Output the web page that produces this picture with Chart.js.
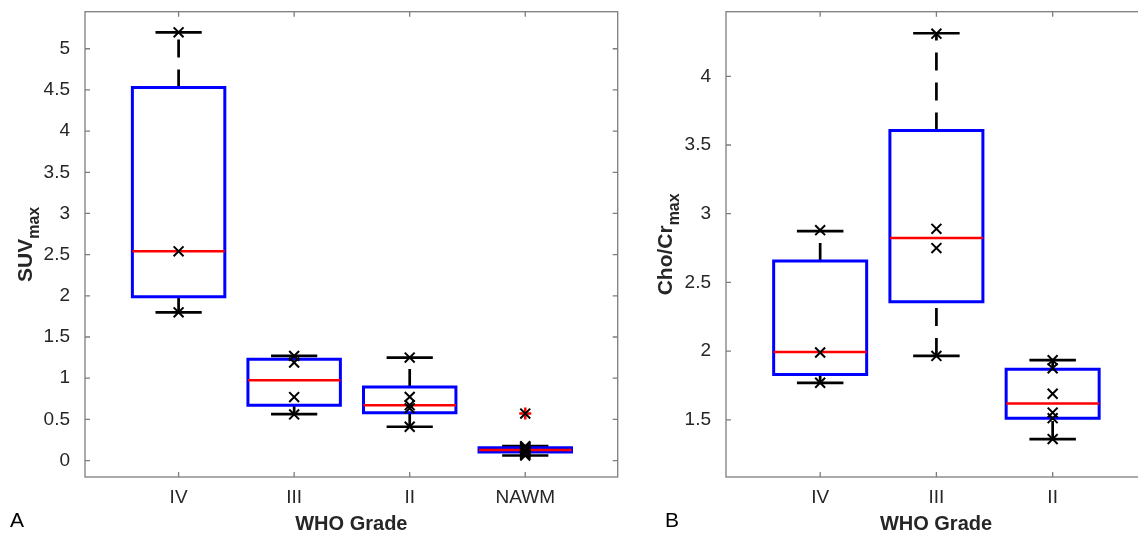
<!DOCTYPE html>
<html>
<head>
<meta charset="utf-8">
<script src="https://cdn.jsdelivr.net/npm/chart.js@4.4.1/dist/chart.umd.min.js"></script>
<style>
  html, body { margin: 0; padding: 0; background: #fff; overflow: hidden; width: 1138px; height: 534px; }
  #panelA { position: absolute; left: 0; top: 0; }
  #panelB { position: absolute; left: 640px; top: 0; }
</style>
</head>
<body>
<canvas id="panelA" width="640" height="534"></canvas>
<canvas id="panelB" width="520" height="534"></canvas>
<script>
// Panel A: SUVmax by WHO grade
const suvGroups = ['IV', 'III', 'II', 'NAWM'];
const suvQ1 = [1.99, 0.67, 0.58, 0.105];
const suvMedian = [2.54, 0.976, 0.672, 0.128];
const suvQ3 = [4.53, 1.231, 0.894, 0.155];
const suvLow = [1.80, 0.563, 0.41, 0.061];
const suvHigh = [5.20, 1.271, 1.25, 0.174];
const suvPoints = [
  [5.20, 2.54, 1.80],
  [1.27, 1.19, 0.77, 0.56],
  [1.25, 0.773, 0.672, 0.634, 0.41],
  [0.174, 0.165, 0.155, 0.145, 0.135, 0.128, 0.12, 0.11, 0.10, 0.09, 0.075, 0.061, 0.57]
];
const suvOutliers = [[], [], [], [0.57]];
const suvTicks = [0, 0.5, 1, 1.5, 2, 2.5, 3, 3.5, 4, 4.5, 5];

// Panel B: Cho/Cr max by WHO grade
const choGroups = ['IV', 'III', 'II'];
const choQ1 = [1.829, 2.359, 1.512];
const choMedian = [1.994, 2.824, 1.618];
const choQ3 = [2.655, 3.606, 1.868];
const choLow = [1.769, 1.965, 1.36];
const choHigh = [2.873, 4.313, 1.934];
const choPoints = [
  [2.88, 1.99, 1.77],
  [4.31, 2.89, 2.75, 1.965],
  [1.934, 1.875, 1.69, 1.553, 1.512, 1.36]
];
const choOutliers = [[], [], []];
const choTicks = [1.5, 2, 2.5, 3, 3.5, 4];

const FONT = '"Liberation Sans", Arial, Helvetica, sans-serif';
const BOX_HALF = 0.4;
const CAP_HALF = 0.2;

function line(data, color, width, dash) {
  return {
    data: data,
    showLine: true,
    borderColor: color,
    borderWidth: width,
    borderDash: dash || [],
    borderCapStyle: 'butt',
    borderJoinStyle: 'miter',
    pointRadius: 0,
    fill: false,
    tension: 0
  };
}

// builds the box plot pieces; first dataset ends up on top
function boxDatasets(groups, q1, med, q3, lo, hi, pts, outl) {
  const marks = [];
  const outs = [];
  groups.forEach((g, i) => {
    pts[i].forEach(v => marks.push({ x: i + 1, y: v }));
    outl[i].forEach(v => outs.push({ x: i + 1, y: v }));
  });
  const ds = [];
  ds.push({ data: marks, pointStyle: 'crossRot', pointRadius: 7, borderColor: '#000', backgroundColor: '#000', borderWidth: 2 });
  ds.push({ data: outs, pointStyle: 'cross', pointRadius: 6, borderColor: '#ff0000', backgroundColor: '#ff0000', borderWidth: 2.5 });
  groups.forEach((g, i) => {
    const x = i + 1;
    ds.push(line([{ x: x - BOX_HALF, y: med[i] }, { x: x + BOX_HALF, y: med[i] }], '#ff0000', 2.5));
    const box = line([
      { x: x - BOX_HALF, y: q1[i] }, { x: x + BOX_HALF, y: q1[i] },
      { x: x + BOX_HALF, y: q3[i] }, { x: x - BOX_HALF, y: q3[i] },
      { x: x - BOX_HALF, y: q1[i] }
    ], '#0000ff', 3);
    box.borderCapStyle = 'square';
    ds.push(box);
    ds.push(line([{ x: x - CAP_HALF, y: hi[i] }, { x: x + CAP_HALF, y: hi[i] }], '#000', 2.7));
    ds.push(line([{ x: x - CAP_HALF, y: lo[i] }, { x: x + CAP_HALF, y: lo[i] }], '#000', 2.7));
    ds.push(line([{ x: x, y: q3[i] }, { x: x, y: hi[i] }], '#000', 2.7, [18, 12]));
    ds.push(line([{ x: x, y: lo[i] }, { x: x, y: q1[i] }], '#000', 2.7, [18, 12]));
  });
  return ds;
}

// MATLAB-like frame: full box, inward ticks, axis titles, panel letter
const framePlugin = {
  id: 'frame',
  beforeDatasetsDraw(chart, args, opts) {
    const { ctx, chartArea: a, scales } = chart;
    const xs = scales.x, ys = scales.y;
    ctx.save();
    ctx.strokeStyle = '#7d7d7d';
    ctx.lineWidth = 1.3;
    ctx.strokeRect(a.left, a.top, a.right - a.left, a.bottom - a.top);
    ctx.beginPath();
    ys.ticks.forEach(t => {
      const py = ys.getPixelForValue(t.value);
      ctx.moveTo(a.left, py); ctx.lineTo(a.left + 5, py);
      ctx.moveTo(a.right, py); ctx.lineTo(a.right - 5, py);
    });
    xs.ticks.forEach(t => {
      const px = xs.getPixelForValue(t.value);
      ctx.moveTo(px, a.bottom); ctx.lineTo(px, a.bottom - 5);
      ctx.moveTo(px, a.top); ctx.lineTo(px, a.top + 5);
    });
    ctx.stroke();
    ctx.restore();
  },
  afterDraw(chart, args, opts) {
    const { ctx, chartArea: a } = chart;
    ctx.save();
    ctx.fillStyle = '#262626';
    // x title
    ctx.font = 'bold 20px ' + FONT;
    ctx.textAlign = 'center';
    ctx.textBaseline = 'alphabetic';
    ctx.fillText(opts.xTitle, (a.left + a.right) / 2, 530);
    // y title with subscript, rotated
    const mainFont = 'bold 21px ' + FONT;
    const subFont = 'bold 16px ' + FONT;
    ctx.font = mainFont;
    const w1 = ctx.measureText(opts.yTitle).width;
    ctx.font = subFont;
    const w2 = ctx.measureText(opts.ySub).width;
    ctx.translate(opts.yTitleX, (a.top + a.bottom) / 2);
    ctx.rotate(-Math.PI / 2);
    ctx.textAlign = 'left';
    ctx.font = mainFont;
    ctx.fillText(opts.yTitle, -(w1 + w2) / 2, 0);
    ctx.font = subFont;
    ctx.fillText(opts.ySub, -(w1 + w2) / 2 + w1, 7);
    ctx.setTransform(1, 0, 0, 1, 0, 0);
    // panel letter
    ctx.fillStyle = '#000';
    ctx.font = '21px ' + FONT;
    ctx.fillText(opts.letter, opts.letterX, 527);
    ctx.restore();
  }
};

function makeChart(id, groups, q1, med, q3, lo, hi, pts, outl, ticks, yRange, xMax, padRight, axisW, titles) {
  return new Chart(document.getElementById(id), {
    type: 'scatter',
    data: { datasets: boxDatasets(groups, q1, med, q3, lo, hi, pts, outl) },
    options: {
      responsive: false,
      animation: false,
      events: [],
      layout: { padding: { left: 0, top: 11.7, right: padRight, bottom: 0 } },
      plugins: { legend: { display: false }, tooltip: { enabled: false }, frame: titles },
      scales: {
        x: {
          type: 'linear',
          min: 0.19,
          max: xMax,
          grid: { display: false },
          border: { display: false },
          afterBuildTicks: s => { s.ticks = groups.map((g, i) => ({ value: i + 1 })); },
          afterFit: s => { s.height = 534 - 477; s.paddingLeft = 0; s.paddingRight = 0; },
          ticks: {
            callback: (v, i) => groups[i],
            autoSkip: false,
            maxRotation: 0,
            padding: 2,
            color: '#262626',
            font: { family: FONT, size: 19, lineHeight: 1.1 }
          }
        },
        y: {
          min: yRange[0],
          max: yRange[1],
          grid: { display: false },
          border: { display: false },
          afterBuildTicks: s => { s.ticks = ticks.map(v => ({ value: v })); },
          afterFit: s => { s.width = axisW; s.paddingTop = 0; s.paddingBottom = 0; },
          ticks: {
            callback: v => String(v),
            padding: 7,
            color: '#262626',
            font: { family: FONT, size: 19, lineHeight: 1.1 }
          }
        }
      }
    },
    plugins: [framePlugin]
  });
}

makeChart('panelA', suvGroups, suvQ1, suvMedian, suvQ3, suvLow, suvHigh, suvPoints, suvOutliers,
  suvTicks, [-0.2, 5.45], 4.8, 22.3, 85,
  { xTitle: 'WHO Grade', yTitle: 'SUV', ySub: 'max', yTitleX: 32, letter: 'A', letterX: 10 });

makeChart('panelB', choGroups, choQ1, choMedian, choQ3, choLow, choHigh, choPoints, choOutliers,
  choTicks, [1.084, 4.47], 3.803, 14, 86,
  { xTitle: 'WHO Grade', yTitle: 'Cho/Cr', ySub: 'max', yTitleX: 32, letter: 'B', letterX: 25 });
</script>
</body>
</html>
